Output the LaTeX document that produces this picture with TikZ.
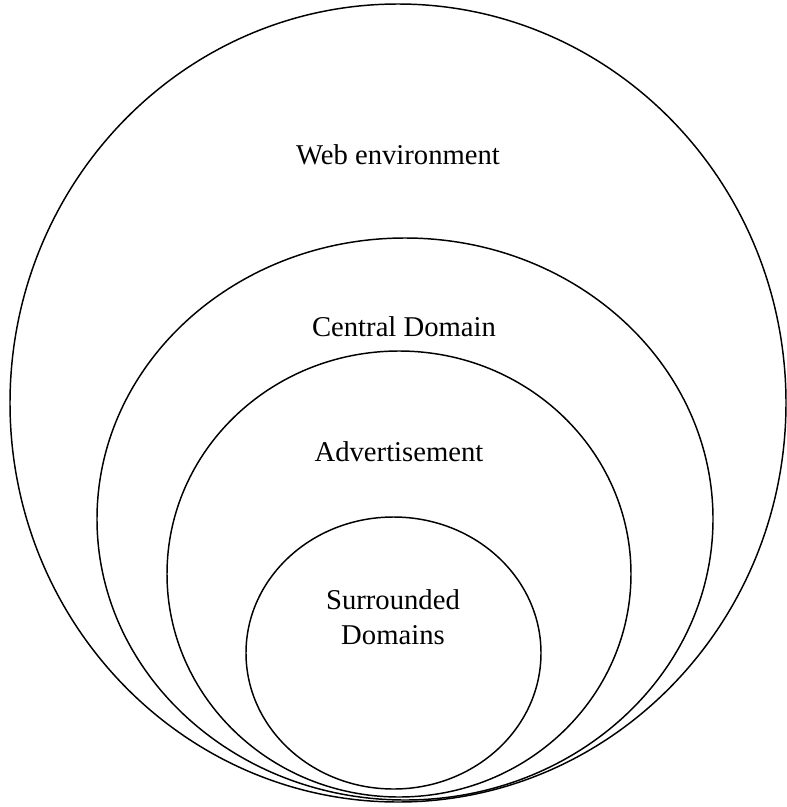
\documentclass[tikz,border=0pt]{standalone}
\usepackage{fontspec}
\setmainfont{Liberation Serif}
\begin{document}
\begin{tikzpicture}[x=0.75pt,y=-0.75pt,
  ring/.style={draw=black,line width=1.1pt},
  lbl/.style={font=\fontsize{21.5}{26}\selectfont,align=center}]
\useasboundingbox (0,0) rectangle (787,807);
\begin{scope}
\clip (0,0) rectangle (787,807);
% nested domains, all resting near the bottom edge
\draw[ring] (398,403) ellipse [x radius=388, y radius=399];
\draw[ring] (405,519) ellipse [x radius=308, y radius=281];
\draw[ring] (399,574) ellipse [x radius=232, y radius=223];
\draw[ring] (393.5,653) ellipse [x radius=147.5, y radius=136];
\end{scope}
\node[lbl] (web) at (398,155) {Web environment};
\node[lbl] (central) at (404,327) {Central Domain};
\node[lbl] (adv) at (399,452) {Advertisement};
\node[lbl] (surr) at (393,617) {Surrounded\\Domains};
\end{tikzpicture}
\end{document}
